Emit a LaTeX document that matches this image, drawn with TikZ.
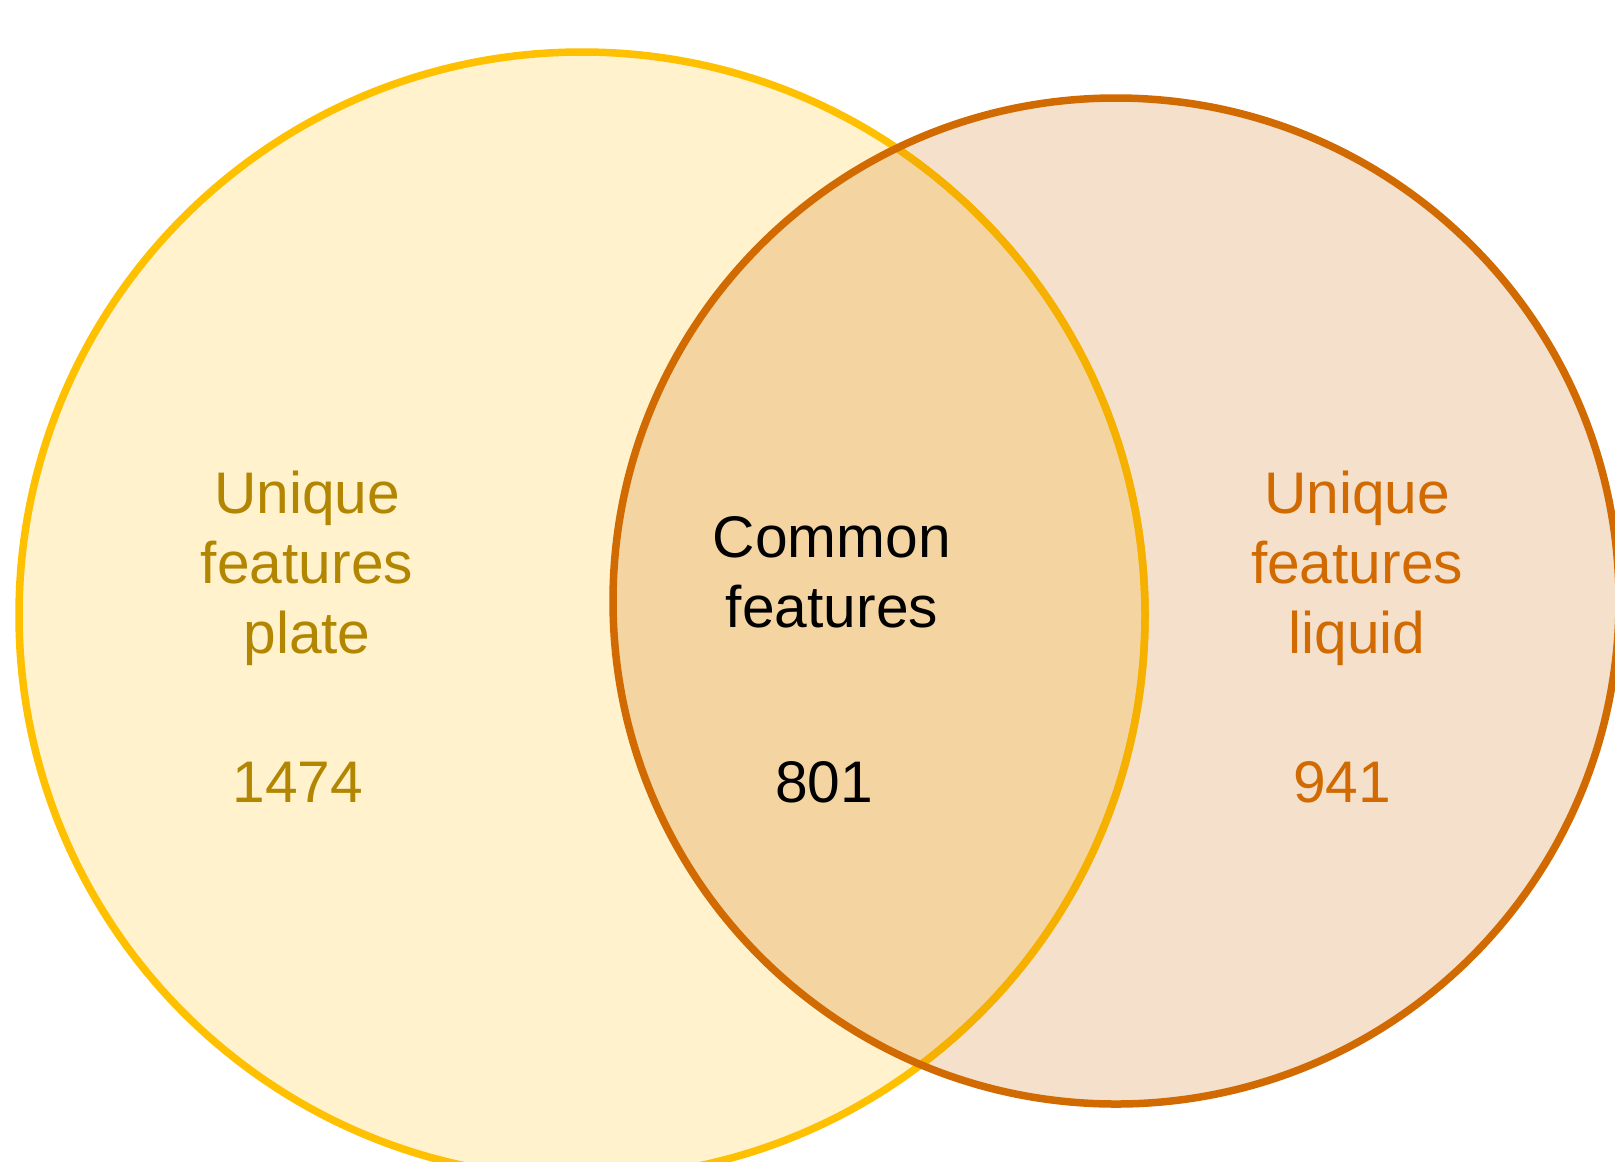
\documentclass[tikz,border=0pt]{standalone}
\usepackage{fontspec}
\setmainfont{Liberation Sans}
\usetikzlibrary{positioning}
\definecolor{plateline}{RGB}{255,192,0}
\definecolor{platedark}{RGB}{245,176,0}
\definecolor{platefill}{RGB}{255,242,205}
\definecolor{platetext}{RGB}{178,134,0}
\definecolor{liquidline}{RGB}{209,106,0}
\definecolor{liquidfill}{RGB}{245,224,204}
\definecolor{liquidtext}{RGB}{209,106,0}
\definecolor{commonfill}{RGB}{244,212,160}
\tikzset{
  labl/.style={align=center, inner sep=0pt, font=\fontsize{33.4}{39.8}\selectfont},
  ring/.style={line width=0.15cm}
}
\newcommand{\vennlabel}[5]{\node[labl, text=#4, anchor=base] (#1) at ( #2 , #3 ) {#5};}

\begin{document}
\begin{tikzpicture}[x=0.02cm, y=-0.02cm]
        \useasboundingbox (0,0) rectangle (1615,1161);
        \coordinate (plate) at (582,615);
        \coordinate (liquid) at (1116,601);

        % fills
        \fill[platefill] (plate) circle[radius=563*0.02cm];
        \fill[liquidfill] (liquid) circle[radius=503*0.02cm];
        \begin{scope}
          \clip (plate) circle[radius=563*0.02cm];
          \fill[commonfill] (liquid) circle[radius=503*0.02cm];
        \end{scope}

        % outlines
        \draw[ring, plateline] (plate) circle[radius=563*0.02cm];
        \begin{scope}
          \clip (liquid) circle[radius=503*0.02cm];
          \draw[ring, platedark] (plate) circle[radius=563*0.02cm];
        \end{scope}
        \draw[ring, liquidline] (liquid) circle[radius=503*0.02cm];

        % labels (base = last line)
        \vennlabel{uplate}{307}{653}{platetext}{Unique\\features\\plate}
        \vennlabel{nplate}{298}{802}{platetext}{1474}
        \vennlabel{ucommon}{832}{627}{black}{Common\\features}
        \vennlabel{ncommon}{824}{802}{black}{801}
        \vennlabel{uliquid}{1357}{653}{liquidtext}{Unique\\features\\liquid}
        \vennlabel{nliquid}{1342}{802}{liquidtext}{941}
    \end{tikzpicture}
\end{document}
